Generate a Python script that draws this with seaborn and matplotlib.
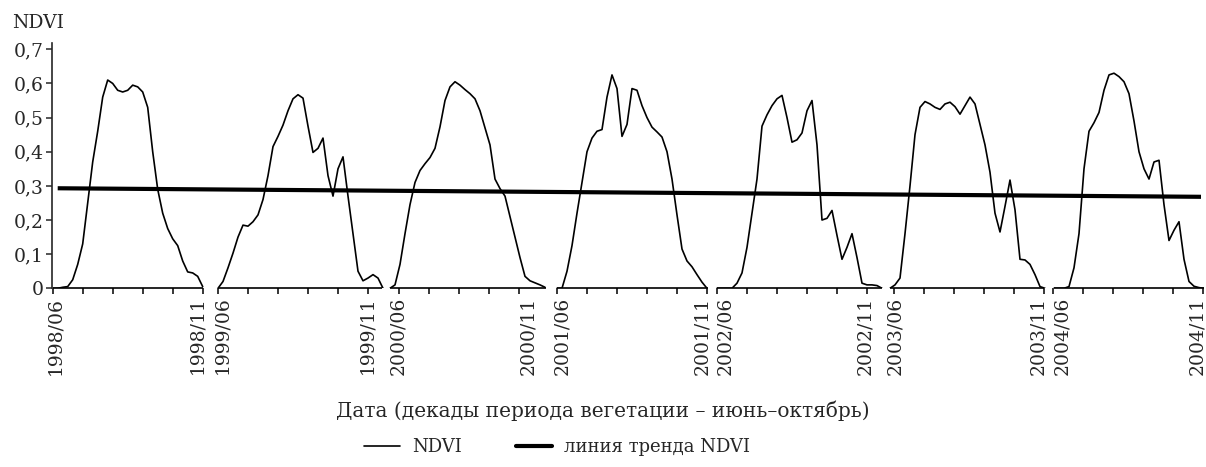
import numpy as np
import pandas as pd
import seaborn as sns
import matplotlib.pyplot as plt
from matplotlib.lines import Line2D

# NDVI by half-decade, June -> November, one list per year
years = [1998, 1999, 2000, 2001, 2002, 2003, 2004]

ndvi_1998 = [0, 0, 0.003, 0.005, 0.025, 0.07, 0.13, 0.25, 0.37, 0.46, 0.56, 0.61,
             0.60, 0.58, 0.575, 0.58, 0.595, 0.59, 0.575, 0.53, 0.40, 0.29, 0.22,
             0.175, 0.145, 0.125, 0.08, 0.048, 0.045, 0.035, 0.005]
ndvi_1999 = [0.0, 0.02, 0.06, 0.103, 0.15, 0.185, 0.182, 0.195, 0.215, 0.26, 0.33,
             0.415, 0.445, 0.478, 0.52, 0.555, 0.567, 0.557, 0.475, 0.398, 0.41,
             0.44, 0.33, 0.27, 0.35, 0.385, 0.27, 0.16, 0.05, 0.022, 0.03, 0.04,
             0.03, 0.0]
ndvi_2000 = [0, 0.01, 0.07, 0.16, 0.245, 0.31, 0.345, 0.365, 0.383, 0.41, 0.473,
             0.55, 0.59, 0.605, 0.595, 0.582, 0.57, 0.555, 0.52, 0.47, 0.42, 0.32,
             0.292, 0.27, 0.21, 0.15, 0.09, 0.035, 0.022, 0.016, 0.01, 0.003]
ndvi_2001 = [0, 0, 0.05, 0.125, 0.22, 0.31, 0.40, 0.44, 0.46, 0.465, 0.56, 0.625,
             0.585, 0.445, 0.48, 0.585, 0.58, 0.535, 0.50, 0.472, 0.458, 0.443,
             0.40, 0.32, 0.215, 0.115, 0.08, 0.063, 0.04, 0.018, 0.0]
ndvi_2002 = [0, 0, 0, 0, 0.015, 0.045, 0.12, 0.22, 0.32, 0.475, 0.508, 0.535, 0.555,
             0.565, 0.50, 0.428, 0.435, 0.455, 0.52, 0.55, 0.42, 0.2, 0.205, 0.228,
             0.155, 0.085, 0.12, 0.16, 0.09, 0.015, 0.01, 0.01, 0.008, 0.0]
ndvi_2003 = [0, 0.01, 0.03, 0.16, 0.30, 0.45, 0.53, 0.547, 0.54, 0.53, 0.524, 0.54,
             0.545, 0.532, 0.51, 0.535, 0.56, 0.54, 0.48, 0.42, 0.34, 0.22, 0.165,
             0.24, 0.317, 0.23, 0.085, 0.083, 0.07, 0.04, 0.005, 0]
ndvi_2004 = [0, 0, 0, 0.005, 0.06, 0.16, 0.35, 0.46, 0.485, 0.515, 0.58, 0.625,
             0.63, 0.62, 0.605, 0.57, 0.49, 0.40, 0.35, 0.32, 0.37, 0.375, 0.245,
             0.14, 0.17, 0.195, 0.085, 0.02, 0.006, 0.002, 0]
ndvi_all = [ndvi_1998, ndvi_1999, ndvi_2000, ndvi_2001, ndvi_2002, ndvi_2003, ndvi_2004]

trend_ndvi = [0.293, 0.268]   # trend line value at start / end

yticks = [0, 0.1, 0.2, 0.3, 0.4, 0.5, 0.6, 0.7]
ytick_labels = ['0', '0,1', '0,2', '0,3', '0,4', '0,5', '0,6', '0,7']
xtick_labels = []
for y in years:
    xtick_labels += [f'{y}/06', f'{y}/11']

# layout of the broken axis, in decade units (1 unit = 10 px)
seg_start = [0.07, 16.6, 33.8, 50.5, 66.5, 83.8, 100.2]
seg_end = [15.07, 33.0, 49.4, 65.6, 83.0, 99.2, 115.2]
tick_start = [0.07, 16.6, 34.7, 50.5, 66.5, 84.2, 100.1]
tick_count = [6, 6, 5, 6, 6, 6, 6]
label_pos = [0.3, 14.5, 17.0, 31.5, 34.6, 47.6, 51.0, 65.0, 67.3, 81.3, 84.3, 98.6,
             101.0, 114.5]

frames = []
for y, s, vals in zip(years, seg_start, ndvi_all):
    frames.append(pd.DataFrame({'x': s + 0.5 * np.arange(len(vals)),
                                'ndvi': vals, 'year': y}))
df = pd.concat(frames, ignore_index=True)

sns.set_style('ticks')
plt.rcParams['font.family'] = ['DejaVu Serif']
plt.rcParams['font.size'] = 13.5

W, H = 1206, 467
fig = plt.figure(figsize=(W / 100, H / 100), dpi=100)
ax = fig.add_axes([52 / W, 1 - 288.3 / H, 1152 / W, 245 / H])

sns.lineplot(data=df, x='x', y='ndvi', units='year', estimator=None,
             color='black', linewidth=1.2, ax=ax, legend=False)
ax.plot([df['x'].min() + 0.5, df['x'].max() - 0.3], trend_ndvi, color='black',
        linewidth=3, solid_capstyle='butt')

# axis segments for each year
for s, e in zip(seg_start, seg_end):
    ax.plot([s, e], [0, 0], color='black', linewidth=1.2, clip_on=False,
            solid_capstyle='butt')

marks = []
for t, n in zip(tick_start, tick_count):
    marks += [t + 3 * k for k in range(n)]
ax.set_xticks(marks)
ax.set_xticklabels([])
ax.set_xticks(label_pos, xtick_labels, minor=True)
ax.tick_params(axis='x', which='major', direction='out', length=4.5, width=1.1,
               color='black')
ax.tick_params(axis='x', which='minor', length=0, rotation=90, pad=6)

ax.set_yticks(yticks, ytick_labels)
ax.tick_params(axis='y', direction='out', length=4, width=1.1, pad=2)

ax.set_xlim(0, 115.2)
ax.set_ylim(0, 0.7176)
for side in ['top', 'right', 'bottom']:
    ax.spines[side].set_visible(False)
ax.spines['left'].set_linewidth(1.2)
ax.set_xlabel('')
ax.set_ylabel('')

fig.text(12 / W, 1 - 28 / H, 'NDVI', ha='left', va='baseline')
fig.text(603 / W, 1 - 411 / H, 'Дата (декады периода вегетации – июнь–октябрь)',
         ha='center', va='center', fontsize=14.5)

handles = [Line2D([], [], color='black', linewidth=1.2),
           Line2D([], [], color='black', linewidth=3)]
fig.legend(handles, ['NDVI', 'линия тренда NDVI'], loc='center',
           bbox_to_anchor=(557 / W, 1 - 447 / H), ncol=2, frameon=False,
           fontsize=13, handlelength=2.0, columnspacing=3.0, handletextpad=0.65)

fig.savefig('out.png', dpi=100)
